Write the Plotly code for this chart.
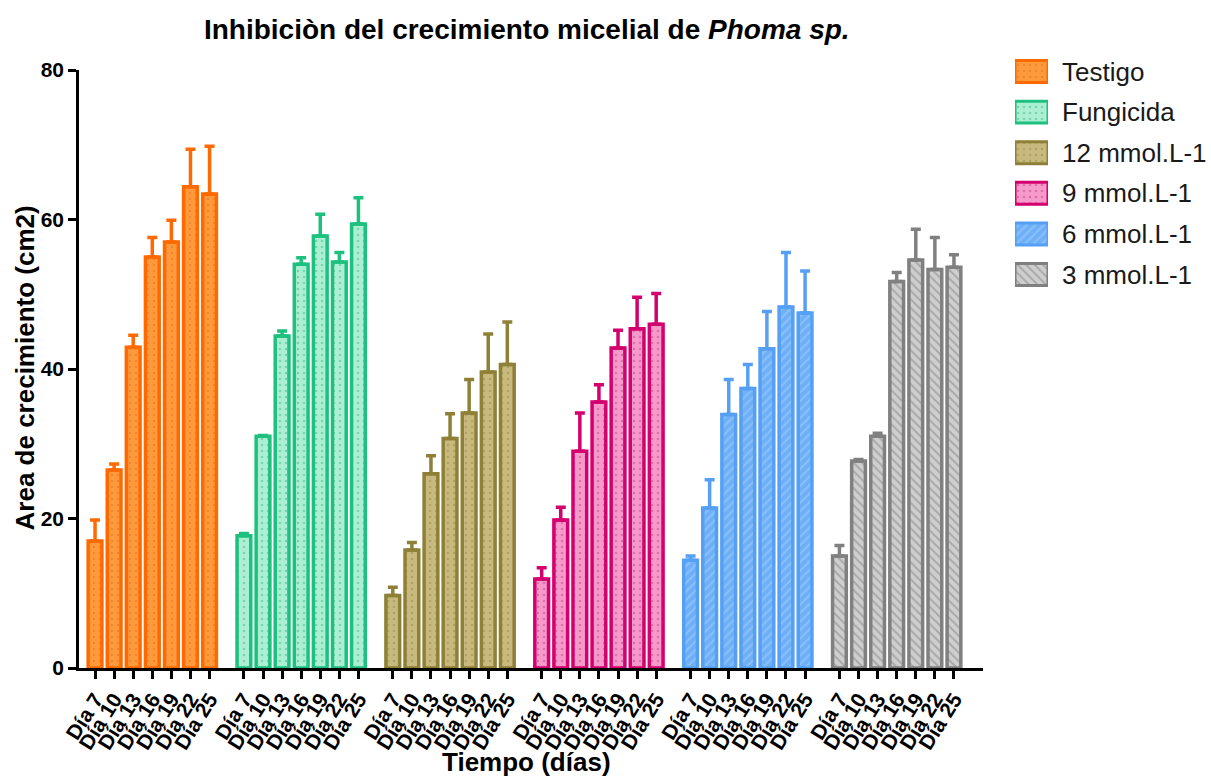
import plotly.graph_objects as go

# Days sampled for each treatment
days = ["Día 7", "Día 10", "Día 13", "Día 16", "Día 19", "Día 22", "Día 25"]
treatments = ["Testigo", "Fungicida", "12 mmol.L-1", "9 mmol.L-1", "6 mmol.L-1", "3 mmol.L-1"]

# Mean growth area (cm2) and upper error for each treatment
testigo = [17.0, 26.5, 42.9, 55.0, 57.0, 64.4, 63.4]
testigo_err = [2.8, 0.8, 1.6, 2.6, 2.9, 5.0, 6.4]
fungicida = [17.7, 31.0, 44.4, 54.0, 57.8, 54.3, 59.4]
fungicida_err = [0.3, 0.1, 0.7, 0.9, 2.9, 1.3, 3.5]
mmol_12 = [9.7, 15.8, 26.0, 30.7, 34.1, 39.6, 40.6]
mmol_12_err = [1.1, 1.0, 2.4, 3.3, 4.5, 5.1, 5.7]
mmol_9 = [11.9, 19.8, 29.0, 35.6, 42.8, 45.4, 46.0]
mmol_9_err = [1.5, 1.7, 5.1, 2.3, 2.4, 4.2, 4.1]
mmol_6 = [14.4, 21.4, 33.9, 37.4, 42.7, 48.3, 47.5]
mmol_6_err = [0.6, 3.8, 4.7, 3.2, 5.0, 7.3, 5.6]
mmol_3 = [15.0, 27.7, 31.0, 51.7, 54.6, 53.3, 53.6]
mmol_3_err = [1.4, 0.2, 0.4, 1.2, 4.1, 4.3, 1.7]

values = [testigo, fungicida, mmol_12, mmol_9, mmol_6, mmol_3]
errors = [testigo_err, fungicida_err, mmol_12_err, mmol_9_err, mmol_6_err, mmol_3_err]

# Styling per treatment: outline, fill, pattern shape, pattern colour
line_colors = ["#FF6A00", "#1DC07E", "#8E8036", "#D5006F", "#55A0F5", "#808080"]
fill_colors = ["#FF9A3C", "#ADEFD3", "#C8BA7E", "#F59ACB", "#6EB0F7", "#CFCFCF"]
pattern_shapes = [".", ".", ".", ".", "/", "\\"]
pattern_colors = ["#D8782A", "#4CB88C", "#9A8C48", "#C04A86", "#A8CFFA", "#858585"]

FONT = "Liberation Sans, Arial, sans-serif"
GROUP_STEP = 7.8  # spacing between treatment groups, in bar slots


def bar_marker(g, lw):
    dotted = pattern_shapes[g] == "."
    return dict(
        color=fill_colors[g],
        line=dict(color=line_colors[g], width=lw),
        pattern=dict(shape=pattern_shapes[g], fgcolor=pattern_colors[g],
                     bgcolor=fill_colors[g], size=6,
                     solidity=0.15 if dotted else 0.35),
    )


fig = go.Figure()

tick_pos, tick_txt = [], []
for g, name in enumerate(treatments):
    xs = [g * GROUP_STEP + i for i in range(len(days))]
    tick_pos += xs
    tick_txt += days
    fig.add_trace(go.Bar(
        x=xs, y=values[g], name=name, width=0.72,
        marker=bar_marker(g, 3.5),
        error_y=dict(type="data", symmetric=False, array=errors[g],
                     arrayminus=[0] * len(days), color=line_colors[g],
                     thickness=3.5, width=5),
        showlegend=False,
    ))

# Legend swatches drawn as bars on a small side axis
for g, name in enumerate(treatments):
    fig.add_trace(go.Bar(
        x=[1], y=[name], orientation="h", width=0.54,
        xaxis="x2", yaxis="y2", showlegend=False, hoverinfo="skip",
        marker=bar_marker(g, 3),
    ))
    fig.add_annotation(x=1, y=name, xref="x2", yref="y2", text=name,
                       showarrow=False, xanchor="left", xshift=12,
                       font=dict(family=FONT, size=26, color="#1a1a1a"))

fig.update_layout(
    width=1211, height=780,
    margin=dict(l=79, r=11, t=50, b=112),
    paper_bgcolor="white", plot_bgcolor="white",
    barmode="overlay",
    font=dict(family=FONT, color="black"),
    title=dict(text="<b>Inhibiciòn del crecimiento micelial de <i>Phoma sp.</i></b>",
               x=0.435, xanchor="center", y=0.962, yanchor="middle", yref="container",
               font=dict(family=FONT, size=28, color="black")),
    xaxis=dict(
        domain=[0, 0.8064], range=[-0.84, 46.52],
        tickmode="array", tickvals=tick_pos, ticktext=tick_txt, tickangle=-58,
        tickfont=dict(family=FONT, size=21, color="black", weight="bold"),
        ticks="outside", ticklen=8, tickwidth=2.5, tickcolor="black",
        showline=True, linecolor="black", linewidth=2.5,
        showgrid=False, zeroline=False,
    ),
    yaxis=dict(
        domain=[0, 0.9676], range=[0, 80],
        tickvals=[0, 20, 40, 60, 80],
        tickfont=dict(family=FONT, size=21, color="black", weight="bold"),
        ticks="outside", ticklen=8, tickwidth=2.5, tickcolor="black",
        showline=True, linecolor="black", linewidth=2.5,
        showgrid=False, zeroline=False,
    ),
    xaxis2=dict(domain=[0.835, 0.8644], range=[0, 1], anchor="y2",
                visible=False, fixedrange=True),
    yaxis2=dict(domain=[0, 1], anchor="x2", type="category",
                categoryarray=treatments, range=[14.69, -0.53],
                visible=False, fixedrange=True),
    annotations=list(fig.layout.annotations) + [
        dict(text="<b>Area de crecimiento (cm2)</b>", textangle=-90,
             xref="paper", yref="paper", x=-0.048, y=0.485,
             xanchor="center", yanchor="middle", showarrow=False,
             font=dict(family=FONT, size=26, color="black")),
        dict(text="<b>Tiempo (días)</b>",
             xref="paper", yref="paper", x=0.399, y=-0.152,
             xanchor="center", yanchor="middle", showarrow=False,
             font=dict(family=FONT, size=26, color="black")),
    ],
)

fig.write_html("out.html")
